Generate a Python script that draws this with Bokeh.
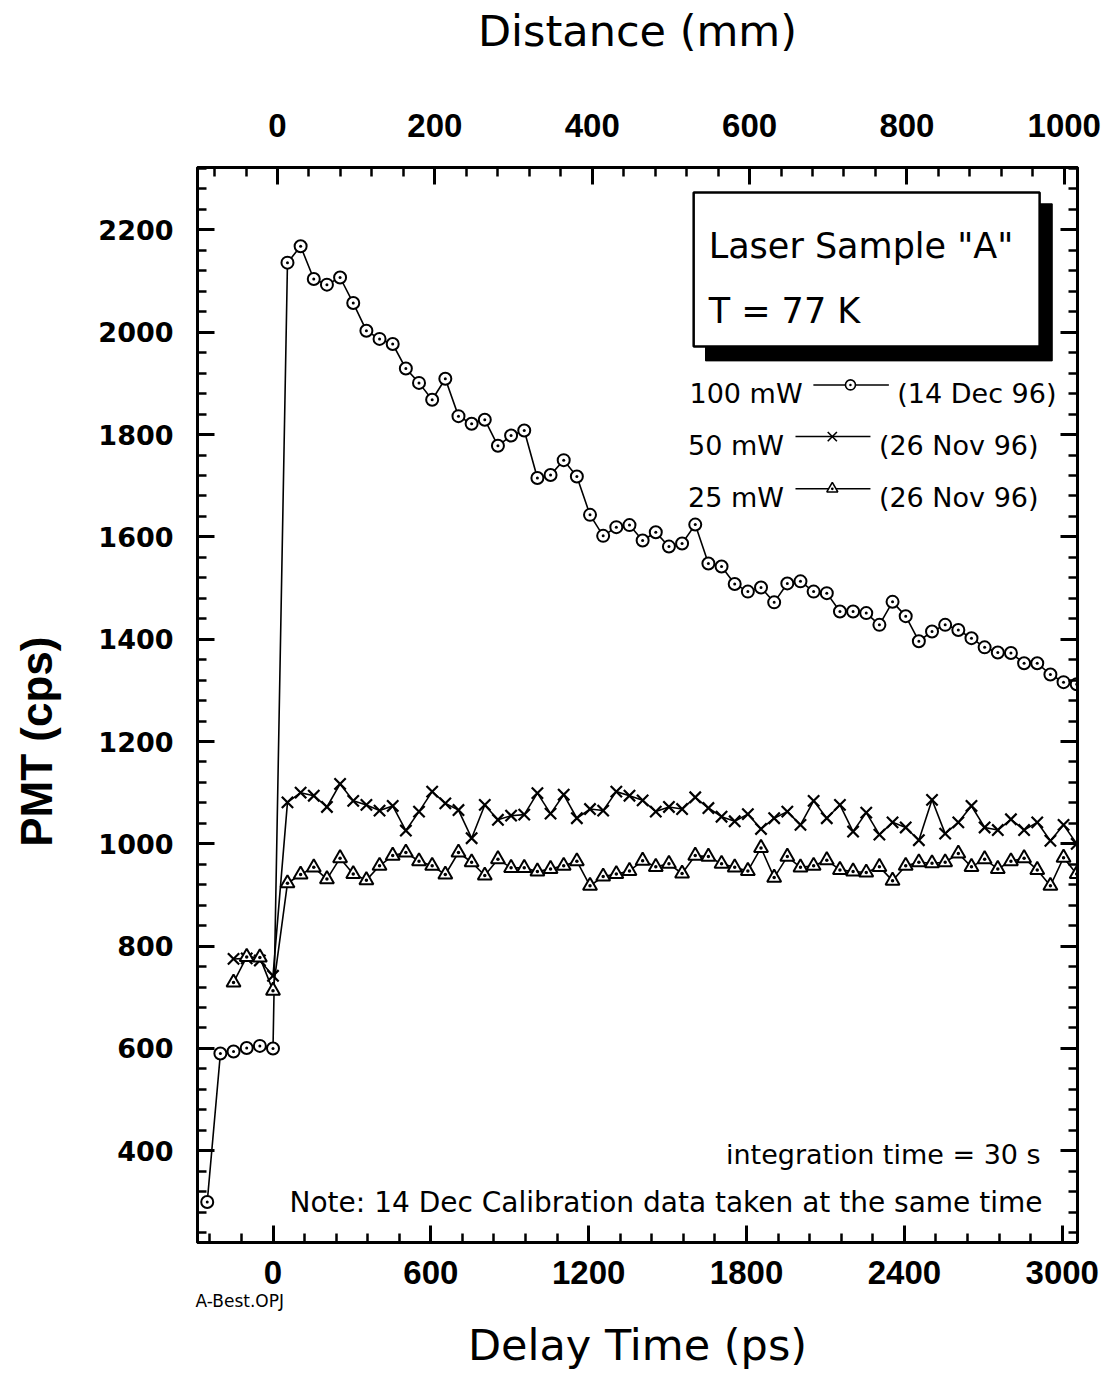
from bokeh.plotting import figure
from bokeh.models import LinearAxis, Range1d, SingleIntervalTicker, Label, ColumnDataSource, Title
from bokeh.embed import file_html
from bokeh.resources import INLINE

# ---------------- data ----------------
delay_pre_100 = [-250, -200, -150, -100, -50, 0]
pmt_pre_100 = [300, 590, 594, 601, 605, 600]

delay_pre_low = [-150, -100, -50, 0]
pmt_pre_50 = [775, 776, 772, 742]
pmt_pre_25 = [729, 779, 778, 713]

delay_post = [55, 105, 155, 205, 255, 305, 355, 405, 455, 505, 555, 605, 655, 705, 755,
              805, 855, 905, 955, 1005, 1055, 1105, 1155, 1205, 1255, 1305, 1355, 1405,
              1455, 1505, 1555, 1605, 1655, 1705, 1755, 1805, 1855, 1905, 1955, 2005, 2055,
              2105, 2155, 2205, 2255, 2305, 2355, 2405, 2455, 2505, 2555, 2605, 2655, 2705,
              2755, 2805, 2855, 2905, 2955, 3005, 3055]

pmt_post_100 = [2136, 2168, 2104, 2093, 2107, 2057, 2003, 1987, 1977, 1929,
                1901, 1868, 1909, 1836, 1821, 1829, 1778, 1798, 1808, 1715,
                1721, 1750, 1718, 1643, 1602, 1619, 1623, 1593, 1609, 1581,
                1587, 1624, 1548, 1542, 1508, 1493, 1501, 1472, 1509, 1513,
                1493, 1490, 1454, 1454, 1451, 1428, 1473, 1445, 1396, 1415,
                1428, 1418, 1402, 1384, 1374, 1373, 1353, 1353, 1331, 1316, 1312]

pmt_post_50 = [1081, 1100, 1094, 1072, 1117, 1084, 1076, 1065, 1074, 1026,
               1063, 1102, 1079, 1066, 1011, 1076, 1047, 1055, 1057, 1099,
               1059, 1096, 1050, 1068, 1065, 1102, 1094, 1085, 1063, 1072,
               1068, 1091, 1070, 1053, 1044, 1058, 1029, 1050, 1063, 1037,
               1084, 1050, 1076, 1024, 1061, 1018, 1042, 1032, 1007, 1086,
               1020, 1042, 1074, 1032, 1027, 1048, 1027, 1042, 1006, 1037, 1000]

pmt_post_25 = [923, 940, 954, 931, 972, 941, 929, 957, 977, 983,
               966, 957, 940, 983, 964, 938, 970, 953, 953, 946,
               951, 957, 966, 918, 936, 941, 947, 967, 955, 961,
               942, 977, 975, 961, 954, 947, 992, 934, 975, 954,
               957, 968, 949, 946, 944, 955, 928, 957, 964, 962,
               964, 981, 955, 970, 951, 966, 972, 949, 918, 973, 941]

series_labels = ["100 mW", "50 mW", "25 mW"]
series_dates = ["(14 Dec 96)", "(26 Nov 96)", "(26 Nov 96)"]

# ---------------- figure ----------------
p = figure(width=1109, height=1376, output_backend="svg", toolbar_location=None,
           x_range=Range1d(-287, 3058), y_range=Range1d(220.7, 2322),
           min_border_left=197, min_border_right=32, min_border_top=167,
           min_border_bottom=134)
p.extra_x_ranges = {"mm": Range1d(-101.7, 1016.8)}
p.grid.visible = False
p.outline_line_color = "black"
p.outline_line_width = 3
p.background_fill_color = "white"
p.border_fill_color = "white"

top_axis = LinearAxis(x_range_name="mm")
p.add_layout(top_axis, "above")
right_axis = LinearAxis()
p.add_layout(right_axis, "right")

bottom_axis = p.below[0]
left_axis = p.left[0]

bottom_axis.ticker = SingleIntervalTicker(interval=600, num_minor_ticks=5)
top_axis.ticker = SingleIntervalTicker(interval=200, num_minor_ticks=5)
left_axis.ticker = SingleIntervalTicker(interval=200, num_minor_ticks=5)
right_axis.ticker = SingleIntervalTicker(interval=200, num_minor_ticks=5)

for ax in [bottom_axis, top_axis, left_axis, right_axis]:
    ax.axis_line_width = 3
    ax.axis_line_color = "black"
    ax.major_tick_in = 17
    ax.major_tick_out = 0
    ax.minor_tick_in = 9
    ax.minor_tick_out = 0
    ax.major_tick_line_width = 3
    ax.minor_tick_line_width = 2.5
    ax.major_tick_line_color = "black"
    ax.minor_tick_line_color = "black"
    ax.major_label_text_color = "black"
    ax.axis_label_text_color = "black"
    ax.axis_label_text_font_style = "normal"

for ax in [bottom_axis, top_axis]:
    ax.major_label_text_font = "Liberation Sans"
    ax.major_label_text_font_style = "bold"
    ax.major_label_text_font_size = "33px"

bottom_axis.major_label_standoff = 18
bottom_axis.axis_label = None

top_axis.major_label_standoff = 31
top_axis.axis_label = "Distance (mm)"
top_axis.axis_label_text_font = "DejaVu Sans"
top_axis.axis_label_text_font_size = "43px"
top_axis.axis_label_standoff = 55

left_axis.major_label_text_font = "DejaVu Sans"
left_axis.major_label_text_font_style = "bold"
left_axis.major_label_text_font_size = "27px"
left_axis.major_label_standoff = 24
left_axis.axis_label = "PMT (cps)" + "\u00a0" * 6
left_axis.axis_label_text_font = "Liberation Sans"
left_axis.axis_label_text_font_style = "bold"
left_axis.axis_label_text_font_size = "44px"
left_axis.axis_label_standoff = 34

right_axis.major_label_text_color = None
right_axis.major_label_text_font_size = "1px"
right_axis.major_label_standoff = 0

# bottom captions (file tag, then axis title)
p.add_layout(Title(text="A-Best.OPJ", align="left", offset=-2, standoff=4,
                   text_font="DejaVu Sans", text_font_size="17px",
                   text_font_style="normal", text_color="black"), "below")
p.add_layout(Title(text="Delay Time (ps)", align="center", standoff=11,
                   text_font="DejaVu Sans", text_font_size="43px",
                   text_font_style="normal", text_color="black"), "below")

# ---------------- data series ----------------
src100 = ColumnDataSource(dict(x=delay_pre_100 + delay_post, y=pmt_pre_100 + pmt_post_100))
src50 = ColumnDataSource(dict(x=delay_pre_low + delay_post, y=pmt_pre_50 + pmt_post_50))
src25 = ColumnDataSource(dict(x=delay_pre_low + delay_post, y=pmt_pre_25 + pmt_post_25))

for src in [src50, src25, src100]:
    p.line("x", "y", source=src, line_color="black", line_width=1.6)

p.scatter("x", "y", source=src50, marker="x", size=16, line_color="black", line_width=2.2)
p.scatter("x", "y", source=src25, marker="triangle_dot", size=14, line_color="black",
          line_width=2, fill_color="white")
p.scatter("x", "y", source=src100, marker="circle_dot", size=12, line_color="black",
          line_width=2, fill_color="white")

# ---------------- info box with shadow ----------------
p.quad(left=[1644], right=[2962], bottom=[1944], top=[2251], fill_color="black",
       line_color="black")
p.quad(left=[1599], right=[2914], bottom=[1972], top=[2273], fill_color="white",
       line_color="black", line_width=2.5)

FONT = "DejaVu Sans"
p.add_layout(Label(x=1656, y=2169, text='Laser Sample "A"', text_font=FONT,
                   text_font_size="35px", text_color="black", text_baseline="alphabetic"))
p.add_layout(Label(x=1656, y=2042, text="T = 77 K", text_font=FONT,
                   text_font_size="35px", text_color="black", text_baseline="alphabetic"))

# ---------------- custom legend ----------------
leg_y_text = [1880, 1778, 1677]
leg_y_line = [1897, 1796, 1694]
leg_label_right = [2013, 1942, 1942]
leg_line_x0 = [2054, 1986, 1986]
leg_line_x1 = [2341, 2271, 2271]
leg_mark_x = [2195, 2126, 2126]
leg_date_left = [2373, 2303, 2303]
leg_markers = ["circle_dot", "x", "triangle_dot"]
leg_sizes = [10, 13, 11]

for i in range(3):
    p.add_layout(Label(x=leg_label_right[i], y=leg_y_text[i], text=series_labels[i],
                       text_font=FONT, text_font_size="27px", text_color="black",
                       text_align="right", text_baseline="alphabetic"))
    p.add_layout(Label(x=leg_date_left[i], y=leg_y_text[i], text=series_dates[i],
                       text_font=FONT, text_font_size="27px", text_color="black",
                       text_align="left", text_baseline="alphabetic"))
    p.line([leg_line_x0[i], leg_line_x1[i]], [leg_y_line[i], leg_y_line[i]],
           line_color="black", line_width=1.5)
    p.scatter([leg_mark_x[i]], [leg_y_line[i]], marker=leg_markers[i], size=leg_sizes[i],
              line_color="black", line_width=1.6, fill_color="white")

# ---------------- notes ----------------
p.add_layout(Label(x=2918, y=393, text="integration time = 30 s", text_font=FONT,
                   text_font_size="27px", text_color="black", text_align="right",
                   text_baseline="alphabetic"))
p.add_layout(Label(x=2925, y=299,
                   text="Note: 14 Dec Calibration data taken at the same time",
                   text_font=FONT, text_font_size="28px", text_color="black",
                   text_align="right", text_baseline="alphabetic"))

open("out.html", "w").write(file_html(p, INLINE))
